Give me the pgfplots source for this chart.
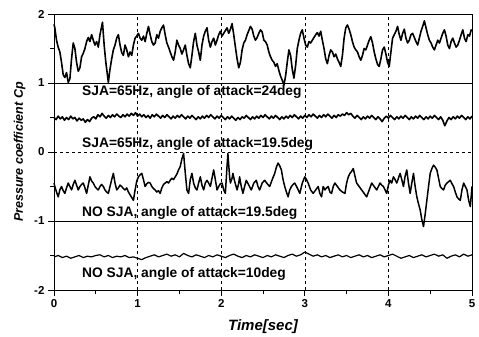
\documentclass[border=0pt]{standalone}
\usepackage{fontspec}
\setmainfont{Liberation Sans}
\usepackage{pgfplots}
\pgfplotsset{compat=1.18}
\begin{document}
\begin{tikzpicture}
\begin{axis}[
  scale only axis, width=418pt, height=276pt,
  xmin=0, xmax=5, ymin=-2, ymax=2,
  xtick={0,1,2,3,4,5}, xticklabels={0,1,2,3,4,5},
  ytick={-2,-1,0,1,2}, yticklabels={-2,-1,0,1,2},
  minor xtick={0.5,1.5,2.5,3.5,4.5},
  minor ytick={-1.5,-0.5,0.5,1.5},
  tick align=outside, major tick length=6pt, minor tick length=4pt,
  xtick pos=bottom, ytick pos=left,
  tick style={black, line width=0.7pt},
  axis line style={black, line width=0.9pt},
  xmajorgrids, major grid style={black, dashed, line width=0.5pt},
  ticklabel style={font=\bfseries\fontsize{11.5}{13}\selectfont},
  xlabel={\bfseries\itshape Time[sec]},
  ylabel={\bfseries\itshape Pressure coefficient Cp},
  xlabel style={font=\fontsize{15}{17}\selectfont, yshift=-5pt},
  ylabel style={font=\fontsize{12.5}{14}\selectfont, yshift=2pt},
  clip=false,
]
\addplot[black, line width=0.9pt] coordinates {(0,1) (5,1)};
\addplot[black, line width=0.9pt] coordinates {(0,-1) (5,-1)};
\addplot[black, dashed, line width=0.5pt] coordinates {(0,0) (5,0)};
% series 1: SJA 65Hz, 24deg
\addplot[black, line width=1.6pt, line join=round] coordinates {
(0.00,1.85)(0.01,1.80)(0.03,1.62)(0.05,1.52)(0.07,1.45)(0.09,1.30)(0.11,1.12)(0.13,1.08)(0.15,1.15)(0.17,1.01)
(0.19,1.06)(0.21,1.35)(0.23,1.58)(0.25,1.50)(0.27,1.30)(0.29,1.17)(0.31,1.22)(0.33,1.38)(0.35,1.43)(0.37,1.50)
(0.39,1.60)(0.41,1.66)(0.43,1.60)(0.45,1.70)(0.47,1.62)(0.49,1.55)(0.51,1.60)(0.53,1.52)(0.55,1.70)(0.58,1.88)
(0.60,1.55)(0.62,1.30)(0.65,1.01)(0.67,1.20)(0.69,1.35)(0.71,1.48)(0.73,1.55)(0.75,1.65)(0.77,1.70)(0.79,1.55)
(0.81,1.44)(0.83,1.40)(0.85,1.55)(0.87,1.48)(0.89,1.38)(0.91,1.45)(0.93,1.40)(0.95,1.55)(0.97,1.65)(0.99,1.68)
(1.01,1.72)(1.03,1.65)(1.05,1.62)(1.07,1.68)(1.09,1.60)(1.11,1.72)(1.13,1.82)(1.15,1.70)(1.17,1.60)(1.19,1.55)
(1.21,1.58)(1.23,1.70)(1.25,1.65)(1.27,1.75)(1.29,1.80)(1.31,1.84)(1.33,1.70)(1.35,1.58)(1.37,1.52)(1.39,1.45)
(1.41,1.38)(1.43,1.33)(1.45,1.45)(1.47,1.62)(1.49,1.55)(1.51,1.50)(1.53,1.42)(1.55,1.48)(1.57,1.55)(1.59,1.40)
(1.61,1.28)(1.63,1.22)(1.65,1.40)(1.67,1.60)(1.69,1.72)(1.71,1.55)(1.73,1.45)(1.75,1.33)(1.77,1.55)(1.79,1.68)
(1.81,1.75)(1.83,1.80)(1.85,1.62)(1.87,1.52)(1.89,1.60)(1.91,1.65)(1.93,1.55)(1.95,1.62)(1.97,1.70)(1.99,1.75)
(2.01,1.68)(2.03,1.72)(2.05,1.76)(2.07,1.80)(2.09,1.72)(2.11,1.78)(2.13,1.86)(2.15,1.70)(2.17,1.52)(2.19,1.35)
(2.21,1.22)(2.23,1.30)(2.25,1.48)(2.27,1.58)(2.29,1.62)(2.31,1.70)(2.33,1.76)(2.35,1.82)(2.37,1.78)(2.39,1.68)
(2.41,1.62)(2.43,1.66)(2.45,1.72)(2.47,1.77)(2.49,1.74)(2.51,1.62)(2.53,1.60)(2.55,1.55)(2.57,1.45)(2.59,1.38)
(2.61,1.33)(2.63,1.30)(2.65,1.24)(2.67,1.28)(2.69,1.18)(2.71,1.10)(2.73,1.04)(2.75,0.97)(2.77,1.10)(2.79,1.30)
(2.81,1.48)(2.83,1.40)(2.85,1.20)(2.87,1.07)(2.89,1.25)(2.91,1.50)(2.93,1.62)(2.95,1.72)(2.97,1.77)(2.99,1.65)
(3.01,1.55)(3.03,1.52)(3.05,1.60)(3.07,1.58)(3.09,1.62)(3.11,1.66)(3.13,1.70)(3.15,1.73)(3.17,1.68)(3.19,1.75)
(3.21,1.62)(3.23,1.50)(3.25,1.35)(3.27,1.28)(3.29,1.40)(3.31,1.48)(3.33,1.45)(3.35,1.38)(3.37,1.42)(3.39,1.35)
(3.41,1.30)(3.43,1.24)(3.45,1.40)(3.47,1.65)(3.49,1.80)(3.51,1.84)(3.53,1.78)(3.55,1.70)(3.57,1.60)(3.59,1.52)
(3.61,1.48)(3.63,1.45)(3.65,1.38)(3.67,1.33)(3.69,1.40)(3.71,1.50)(3.73,1.48)(3.75,1.55)(3.77,1.62)(3.79,1.67)
(3.81,1.58)(3.83,1.45)(3.85,1.35)(3.87,1.27)(3.89,1.24)(3.91,1.35)(3.93,1.48)(3.95,1.52)(3.97,1.42)(3.99,1.30)
(4.01,1.24)(4.03,1.45)(4.05,1.65)(4.07,1.70)(4.09,1.75)(4.11,1.82)(4.13,1.70)(4.15,1.62)(4.17,1.72)(4.19,1.78)
(4.21,1.65)(4.23,1.58)(4.25,1.62)(4.27,1.70)(4.29,1.72)(4.31,1.66)(4.33,1.60)(4.35,1.55)(4.37,1.65)(4.39,1.75)
(4.41,1.82)(4.43,1.90)(4.45,1.80)(4.47,1.70)(4.49,1.62)(4.51,1.58)(4.53,1.52)(4.55,1.48)(4.57,1.55)(4.59,1.62)
(4.61,1.58)(4.63,1.65)(4.65,1.72)(4.67,1.77)(4.69,1.68)(4.71,1.55)(4.73,1.50)(4.75,1.60)(4.77,1.65)(4.79,1.58)
(4.81,1.52)(4.83,1.55)(4.85,1.62)(4.87,1.70)(4.89,1.77)(4.91,1.65)(4.93,1.60)(4.95,1.70)(4.97,1.68)(4.99,1.77)(5.00,1.75)
};
% series 2: SJA 65Hz, 19.5deg
\addplot[black, line width=1.6pt, line join=round] coordinates {
(0.000,0.50)(0.025,0.47)(0.050,0.52)(0.075,0.48)(0.100,0.51)(0.125,0.46)(0.150,0.50)(0.175,0.47)(0.200,0.52)(0.225,0.48)
(0.250,0.50)(0.275,0.45)(0.300,0.49)(0.325,0.46)(0.350,0.48)(0.375,0.43)(0.400,0.47)(0.425,0.44)(0.450,0.49)(0.475,0.51)
(0.500,0.48)(0.525,0.54)(0.550,0.51)(0.575,0.56)(0.600,0.52)(0.625,0.49)(0.650,0.53)(0.675,0.50)(0.700,0.54)(0.725,0.51)
(0.750,0.55)(0.775,0.52)(0.800,0.50)(0.825,0.54)(0.850,0.51)(0.875,0.55)(0.900,0.52)(0.925,0.56)(0.950,0.53)(0.975,0.57)
(1.000,0.52)(1.025,0.55)(1.050,0.51)(1.075,0.54)(1.100,0.50)(1.125,0.53)(1.150,0.49)(1.175,0.54)(1.200,0.51)(1.225,0.55)
(1.250,0.52)(1.275,0.49)(1.300,0.53)(1.325,0.50)(1.350,0.54)(1.375,0.51)(1.400,0.48)(1.425,0.52)(1.450,0.49)(1.475,0.53)
(1.500,0.50)(1.525,0.54)(1.550,0.51)(1.575,0.48)(1.600,0.52)(1.625,0.49)(1.650,0.53)(1.675,0.50)(1.700,0.47)(1.725,0.51)
(1.750,0.48)(1.775,0.52)(1.800,0.49)(1.825,0.53)(1.850,0.50)(1.875,0.54)(1.900,0.51)(1.925,0.48)(1.950,0.52)(1.975,0.49)
(2.000,0.53)(2.025,0.50)(2.050,0.47)(2.075,0.51)(2.100,0.48)(2.125,0.52)(2.150,0.49)(2.175,0.46)(2.200,0.50)(2.225,0.47)
(2.250,0.51)(2.275,0.49)(2.300,0.53)(2.325,0.50)(2.350,0.47)(2.375,0.51)(2.400,0.48)(2.425,0.52)(2.450,0.49)(2.475,0.53)
(2.500,0.50)(2.525,0.54)(2.550,0.51)(2.575,0.48)(2.600,0.52)(2.625,0.49)(2.650,0.53)(2.675,0.50)(2.700,0.47)(2.725,0.51)
(2.750,0.48)(2.775,0.52)(2.800,0.49)(2.825,0.53)(2.850,0.50)(2.875,0.54)(2.900,0.51)(2.925,0.48)(2.950,0.52)(2.975,0.49)
(3.000,0.53)(3.025,0.50)(3.050,0.54)(3.075,0.51)(3.100,0.55)(3.125,0.52)(3.150,0.49)(3.175,0.53)(3.200,0.50)(3.225,0.54)
(3.250,0.51)(3.275,0.55)(3.300,0.52)(3.325,0.49)(3.350,0.53)(3.375,0.50)(3.400,0.54)(3.425,0.52)(3.450,0.55)(3.475,0.53)
(3.500,0.57)(3.525,0.54)(3.550,0.56)(3.575,0.52)(3.600,0.49)(3.625,0.53)(3.650,0.50)(3.675,0.47)(3.700,0.51)(3.725,0.48)
(3.750,0.52)(3.775,0.49)(3.800,0.53)(3.825,0.50)(3.850,0.47)(3.875,0.51)(3.900,0.48)(3.925,0.44)(3.950,0.49)(3.975,0.52)
(4.000,0.49)(4.025,0.53)(4.050,0.50)(4.075,0.47)(4.100,0.51)(4.125,0.48)(4.150,0.52)(4.175,0.49)(4.200,0.53)(4.225,0.50)
(4.250,0.47)(4.275,0.51)(4.300,0.48)(4.325,0.52)(4.350,0.49)(4.375,0.53)(4.400,0.50)(4.425,0.47)(4.450,0.51)(4.475,0.48)
(4.500,0.52)(4.525,0.49)(4.550,0.53)(4.575,0.50)(4.600,0.47)(4.625,0.51)(4.650,0.46)(4.675,0.38)(4.700,0.45)(4.725,0.50)
(4.750,0.47)(4.775,0.51)(4.800,0.48)(4.825,0.52)(4.850,0.49)(4.875,0.53)(4.900,0.50)(4.925,0.47)(4.950,0.51)(4.975,0.48)(5.000,0.52)
};
% series 3: NO SJA, 19.5deg
\addplot[black, line width=1.5pt, line join=round] coordinates {
(0.00,-0.45)(0.01,-0.50)(0.03,-0.58)(0.05,-0.65)(0.07,-0.55)(0.09,-0.50)(0.11,-0.56)(0.13,-0.60)(0.15,-0.52)(0.17,-0.45)
(0.19,-0.50)(0.21,-0.55)(0.23,-0.47)(0.25,-0.41)(0.27,-0.48)(0.29,-0.55)(0.31,-0.50)(0.33,-0.47)(0.35,-0.45)(0.37,-0.52)
(0.39,-0.60)(0.41,-0.48)(0.43,-0.36)(0.45,-0.42)(0.47,-0.45)(0.49,-0.50)(0.51,-0.53)(0.53,-0.55)(0.55,-0.50)(0.57,-0.47)
(0.59,-0.50)(0.61,-0.55)(0.63,-0.58)(0.65,-0.60)(0.67,-0.50)(0.69,-0.40)(0.71,-0.31)(0.73,-0.45)(0.75,-0.55)(0.77,-0.52)
(0.79,-0.48)(0.81,-0.50)(0.83,-0.53)(0.85,-0.55)(0.87,-0.52)(0.89,-0.58)(0.91,-0.62)(0.93,-0.66)(0.95,-0.70)(0.97,-0.55)
(0.99,-0.42)(1.01,-0.36)(1.03,-0.33)(1.05,-0.31)(1.07,-0.40)(1.09,-0.50)(1.11,-0.46)(1.13,-0.44)(1.15,-0.45)(1.17,-0.50)
(1.19,-0.53)(1.21,-0.55)(1.23,-0.58)(1.25,-0.56)(1.27,-0.60)(1.29,-0.52)(1.31,-0.47)(1.33,-0.45)(1.35,-0.43)(1.37,-0.45)
(1.39,-0.41)(1.41,-0.38)(1.43,-0.40)(1.45,-0.36)(1.47,-0.32)(1.49,-0.26)(1.51,-0.21)(1.53,-0.10)(1.55,-0.02)(1.57,-0.30)
(1.59,-0.55)(1.61,-0.60)(1.63,-0.40)(1.65,-0.31)(1.67,-0.45)(1.69,-0.52)(1.71,-0.55)(1.73,-0.45)(1.75,-0.36)(1.77,-0.48)
(1.79,-0.55)(1.81,-0.45)(1.83,-0.41)(1.85,-0.45)(1.87,-0.50)(1.89,-0.38)(1.91,-0.26)(1.93,-0.40)(1.95,-0.55)(1.97,-0.50)
(1.99,-0.46)(2.01,-0.45)(2.03,-0.55)(2.05,-0.60)(2.07,-0.20)(2.08,-0.02)(2.10,-0.35)(2.11,-0.45)(2.13,-0.38)(2.14,-0.31)
(2.16,-0.42)(2.19,-0.55)(2.21,-0.45)(2.22,-0.36)(2.24,-0.50)(2.26,-0.60)(2.28,-0.50)(2.30,-0.41)(2.33,-0.48)(2.36,-0.55)
(2.39,-0.45)(2.42,-0.41)(2.44,-0.50)(2.46,-0.55)(2.49,-0.45)(2.52,-0.41)(2.55,-0.46)(2.58,-0.50)(2.61,-0.40)(2.64,-0.31)
(2.66,-0.22)(2.68,-0.16)(2.70,-0.20)(2.72,-0.26)(2.74,-0.40)(2.76,-0.50)(2.78,-0.58)(2.80,-0.65)(2.82,-0.55)(2.84,-0.50)
(2.86,-0.47)(2.88,-0.45)(2.91,-0.52)(2.94,-0.60)(2.97,-0.45)(3.00,-0.36)(3.02,-0.40)(3.04,-0.45)(3.07,-0.55)(3.10,-0.60)
(3.13,-0.55)(3.16,-0.50)(3.18,-0.60)(3.20,-0.65)(3.22,-0.50)(3.24,-0.55)(3.26,-0.52)(3.28,-0.50)(3.30,-0.58)(3.32,-0.60)
(3.34,-0.50)(3.36,-0.45)(3.39,-0.50)(3.42,-0.55)(3.45,-0.58)(3.48,-0.60)(3.50,-0.45)(3.52,-0.36)(3.54,-0.31)(3.56,-0.28)
(3.58,-0.24)(3.60,-0.35)(3.62,-0.45)(3.65,-0.50)(3.68,-0.55)(3.71,-0.60)(3.74,-0.65)(3.77,-0.55)(3.80,-0.45)(3.83,-0.50)
(3.86,-0.55)(3.88,-0.50)(3.90,-0.45)(3.92,-0.48)(3.94,-0.50)(3.96,-0.55)(3.98,-0.60)(4.00,-0.48)(4.02,-0.41)(4.04,-0.45)
(4.06,-0.36)(4.08,-0.40)(4.10,-0.45)(4.12,-0.38)(4.14,-0.31)(4.16,-0.40)(4.18,-0.50)(4.20,-0.35)(4.22,-0.26)(4.24,-0.45)
(4.26,-0.60)(4.28,-0.45)(4.30,-0.31)(4.32,-0.50)(4.34,-0.65)(4.36,-0.75)(4.38,-0.84)(4.40,-0.98)(4.42,-1.08)(4.44,-0.90)
(4.46,-0.70)(4.48,-0.50)(4.50,-0.31)(4.52,-0.24)(4.54,-0.19)(4.56,-0.22)(4.58,-0.26)(4.60,-0.38)(4.62,-0.50)(4.64,-0.53)
(4.66,-0.55)(4.68,-0.48)(4.70,-0.45)(4.72,-0.43)(4.74,-0.41)(4.76,-0.46)(4.78,-0.50)(4.80,-0.58)(4.82,-0.65)(4.84,-0.68)
(4.86,-0.70)(4.88,-0.55)(4.90,-0.45)(4.92,-0.50)(4.94,-0.55)(4.96,-0.70)(4.98,-0.79)(5.00,-0.50)
};
% series 4: NO SJA, 10deg
\addplot[black, line width=1.2pt, line join=round] coordinates {
(0.00,-1.52)(0.05,-1.50)(0.10,-1.53)(0.15,-1.51)(0.20,-1.54)(0.25,-1.52)(0.30,-1.50)(0.35,-1.53)(0.40,-1.51)(0.45,-1.52)
(0.50,-1.50)(0.55,-1.49)(0.60,-1.52)(0.65,-1.50)(0.70,-1.53)(0.75,-1.51)(0.80,-1.52)(0.85,-1.50)(0.90,-1.53)(0.95,-1.52)
(1.00,-1.54)(1.05,-1.56)(1.10,-1.53)(1.15,-1.51)(1.20,-1.49)(1.25,-1.52)(1.30,-1.50)(1.35,-1.48)(1.40,-1.51)(1.45,-1.49)
(1.50,-1.52)(1.55,-1.47)(1.60,-1.50)(1.65,-1.52)(1.70,-1.49)(1.75,-1.51)(1.80,-1.53)(1.85,-1.50)(1.90,-1.52)(1.95,-1.49)
(2.00,-1.51)(2.05,-1.53)(2.10,-1.50)(2.15,-1.48)(2.20,-1.51)(2.25,-1.53)(2.30,-1.50)(2.35,-1.52)(2.40,-1.49)(2.45,-1.51)
(2.50,-1.53)(2.55,-1.50)(2.60,-1.52)(2.65,-1.49)(2.70,-1.51)(2.75,-1.53)(2.80,-1.50)(2.85,-1.48)(2.90,-1.51)(2.95,-1.49)
(3.00,-1.45)(3.05,-1.48)(3.10,-1.51)(3.15,-1.49)(3.20,-1.52)(3.25,-1.50)(3.30,-1.53)(3.35,-1.51)(3.40,-1.49)(3.45,-1.52)
(3.50,-1.50)(3.55,-1.53)(3.60,-1.51)(3.65,-1.49)(3.70,-1.52)(3.75,-1.50)(3.80,-1.53)(3.85,-1.51)(3.90,-1.49)(3.95,-1.52)
(4.00,-1.50)(4.05,-1.48)(4.10,-1.51)(4.15,-1.54)(4.20,-1.52)(4.25,-1.50)(4.30,-1.53)(4.35,-1.51)(4.40,-1.49)(4.45,-1.52)
(4.50,-1.50)(4.55,-1.48)(4.60,-1.51)(4.65,-1.49)(4.70,-1.54)(4.75,-1.51)(4.80,-1.49)(4.85,-1.52)(4.90,-1.48)(4.95,-1.51)(5.00,-1.49)
};
\node[anchor=west, font=\bfseries\fontsize{13.8}{15}\selectfont, inner sep=0pt] at (axis cs:0.335,0.87) {SJA=65Hz, angle of attack=24deg};
\node[anchor=west, font=\bfseries\fontsize{13.8}{15}\selectfont, inner sep=0pt] at (axis cs:0.335,0.12) {SJA=65Hz, angle of attack=19.5deg};
\node[anchor=west, font=\bfseries\fontsize{13.8}{15}\selectfont, inner sep=0pt] at (axis cs:0.335,-0.89) {NO SJA, angle of attack=19.5deg};
\node[anchor=west, font=\bfseries\fontsize{13.8}{15}\selectfont, inner sep=0pt] at (axis cs:0.335,-1.77) {NO SJA, angle of attack=10deg};
\end{axis}
\path ([shift={(-54pt,-47pt)}]current axis.south west) rectangle ([shift={(7pt,14pt)}]current axis.north east);
\end{tikzpicture}
\end{document}
